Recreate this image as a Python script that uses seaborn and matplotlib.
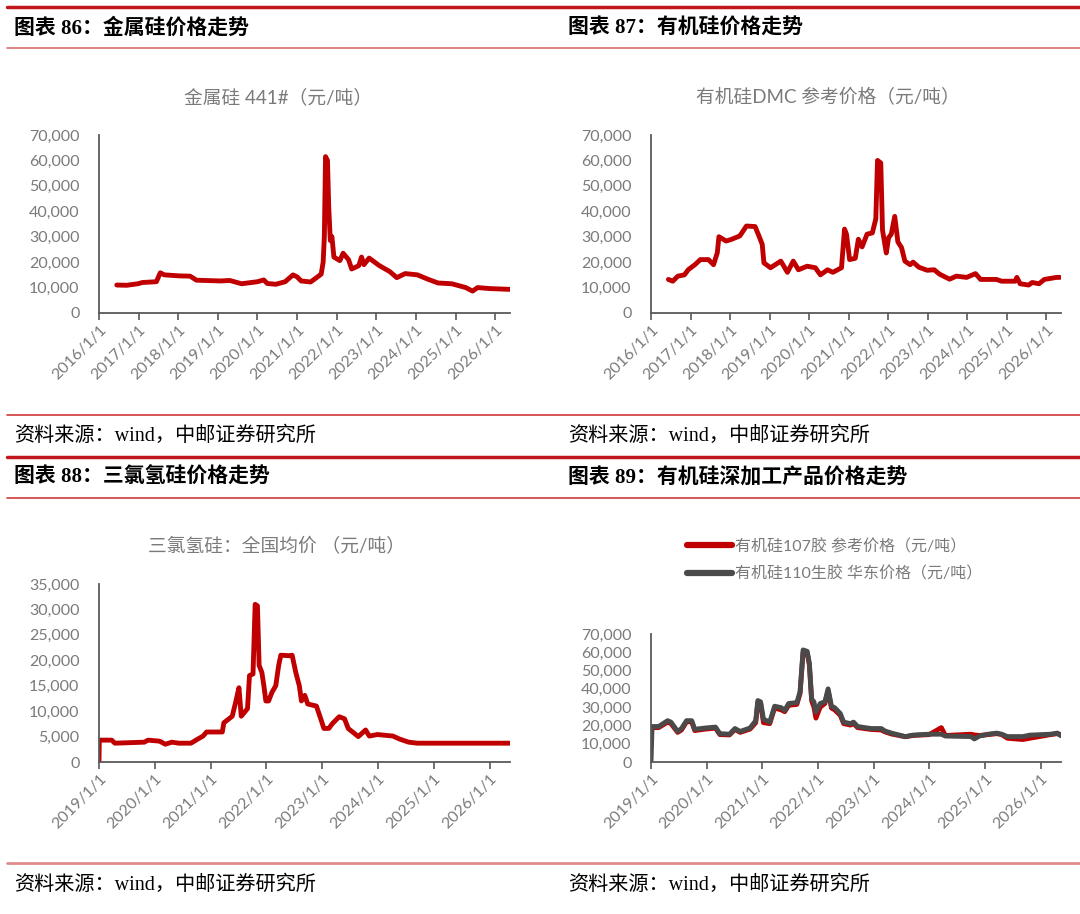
import pandas as pd
import matplotlib
matplotlib.use("Agg")
import matplotlib.pyplot as plt
import matplotlib.dates as mdates
from matplotlib.lines import Line2D
from matplotlib.ticker import FuncFormatter
import seaborn as sns

# ---- data ----
si_dates = ["2016-06-13", "2016-09-12", "2016-12-24", "2017-02-06", "2017-06-13", "2017-07-19",
            "2017-08-25", "2018-01-08", "2018-04-20", "2018-06-18", "2019-01-26", "2019-04-20",
            "2019-08-08", "2020-01-01", "2020-02-28", "2020-04-01", "2020-06-18", "2020-09-13",
            "2020-11-24", "2021-01-01", "2021-02-07", "2021-05-05", "2021-07-02", "2021-08-11",
            "2021-08-29", "2021-09-09", "2021-09-20", "2021-10-08", "2021-10-19", "2021-11-03",
            "2021-11-18", "2021-12-06", "2022-01-30", "2022-03-01", "2022-04-20", "2022-05-19",
            "2022-07-23", "2022-08-18", "2022-09-09", "2022-10-27", "2023-01-30", "2023-05-05",
            "2023-07-09", "2023-09-24", "2024-01-15", "2024-04-20", "2024-07-23", "2024-11-27",
            "2025-04-05", "2025-06-07", "2025-07-23", "2025-11-14", "2026-05-15"]
si_price = [11000, 10900, 11500, 12000, 12300, 15800,
            15000, 14600, 14500, 12900, 12600, 12800,
            11500, 12300, 13000, 11600, 11300, 12300,
            15000, 14200, 12600, 12200, 14000, 15300,
            20000, 30000, 61500, 60000, 42000, 28500,
            30000, 22000, 20600, 23500, 21000, 17300,
            18600, 22000, 19000, 21600, 18600, 16300,
            13900, 15500, 15000, 13300, 11800, 11500,
            10000, 8600, 10000, 9600, 9300]

dmc_dates = ["2016-06-10", "2016-07-20", "2016-09-05", "2016-11-05", "2016-12-10", "2017-02-10",
             "2017-04-01", "2017-06-15", "2017-08-01", "2017-09-05", "2017-09-20", "2017-11-25",
             "2018-01-10", "2018-04-01", "2018-06-01", "2018-08-20", "2018-09-25", "2018-10-25",
             "2018-11-10", "2019-01-10", "2019-04-15", "2019-06-15", "2019-08-08", "2019-09-25",
             "2019-12-15", "2020-02-28", "2020-04-15", "2020-06-20", "2020-08-08", "2020-10-27",
             "2020-11-24", "2020-12-12", "2021-01-10", "2021-03-03", "2021-04-01", "2021-05-05",
             "2021-06-20", "2021-08-08", "2021-09-09", "2021-09-25", "2021-10-25", "2021-11-10",
             "2021-12-15", "2022-01-05", "2022-01-30", "2022-03-03", "2022-04-01", "2022-05-05",
             "2022-06-05", "2022-07-23", "2022-08-20", "2022-10-12", "2022-12-28", "2023-03-03",
             "2023-04-20", "2023-07-23", "2023-09-24", "2023-12-28", "2024-03-18", "2024-05-05",
             "2024-09-28", "2024-11-15", "2025-03-20", "2025-04-05", "2025-05-05", "2025-07-23",
             "2025-08-25", "2025-10-27", "2025-12-15", "2026-04-05", "2026-05-08"]
dmc_price = [13200, 12500, 14500, 15000, 17000, 19000,
             21000, 21000, 19000, 23700, 30000, 28300,
             28900, 30300, 34200, 34000, 30300, 27000,
             19700, 17800, 20400, 16000, 20400, 17000,
             18400, 17800, 15000, 17000, 16000, 17800,
             33000, 31000, 21000, 21500, 29000, 26000,
             31000, 31500, 37000, 60000, 59000, 32600,
             23600, 29600, 31000, 38000, 28000, 25700,
             20400, 19000, 20000, 18000, 16800, 17000,
             15300, 13300, 14500, 14000, 15500, 13200,
             13200, 12500, 12500, 14000, 11500, 11000,
             12000, 11500, 13200, 14000, 14000]

tcs_dates = ["2019-01-01", "2019-01-03", "2019-03-25", "2019-04-15", "2019-10-25", "2019-11-18",
             "2020-02-01", "2020-03-10", "2020-04-22", "2020-06-05", "2020-08-25", "2020-10-08",
             "2020-11-12", "2020-12-05", "2021-03-18", "2021-03-28", "2021-05-01", "2021-05-22",
             "2021-06-13", "2021-07-05", "2021-07-20", "2021-08-30", "2021-09-12", "2021-10-05",
             "2021-10-19", "2021-11-03", "2021-11-14", "2021-12-02", "2021-12-15", "2021-12-28",
             "2022-01-15", "2022-02-06", "2022-03-03", "2022-03-22", "2022-04-05", "2022-05-30",
             "2022-06-18", "2022-07-12", "2022-08-04", "2022-08-18", "2022-09-09", "2022-09-28",
             "2022-11-24", "2022-12-20", "2023-01-12", "2023-02-13", "2023-03-10", "2023-04-22",
             "2023-05-27", "2023-06-20", "2023-07-23", "2023-08-25", "2023-10-12", "2023-11-05",
             "2023-12-28", "2024-04-08", "2024-05-22", "2024-07-20", "2024-09-13", "2026-05-12"]
tcs_price = [0, 4300, 4300, 3700, 3900, 4300,
             4100, 3500, 3900, 3700, 3700, 4500,
             5100, 5900, 5900, 7700, 8500, 9000,
             11700, 14600, 9000, 10500, 17000, 17300,
             31000, 30700, 19000, 17600, 15000, 12000,
             12000, 13700, 15000, 19000, 21000, 20900,
             21000, 17600, 15000, 12000, 13100, 11400,
             11000, 8700, 6600, 6600, 7600, 8900,
             8500, 6600, 5800, 5000, 6300, 5100,
             5400, 5100, 4500, 3900, 3700, 3700]

gum_dates = ["2019-01-01", "2019-01-08", "2019-02-20", "2019-04-20", "2019-05-12", "2019-06-25",
             "2019-07-20", "2019-08-22", "2019-09-25", "2019-10-15", "2019-12-25", "2020-02-28",
             "2020-03-28", "2020-05-30", "2020-07-05", "2020-08-08", "2020-10-12", "2020-11-18",
             "2020-12-02", "2020-12-20", "2021-01-08", "2021-02-18", "2021-03-22", "2021-05-05",
             "2021-05-27", "2021-06-22", "2021-08-15", "2021-09-05", "2021-09-25", "2021-10-22",
             "2021-11-05", "2021-11-20", "2021-12-05", "2021-12-18", "2022-01-15", "2022-02-15",
             "2022-03-08", "2022-03-30", "2022-04-20", "2022-05-27", "2022-06-18", "2022-08-01",
             "2022-08-22", "2022-09-18", "2022-12-15", "2023-02-20", "2023-03-15", "2023-04-28",
             "2023-07-28", "2023-09-15", "2024-01-01", "2024-03-20", "2024-04-15", "2024-10-01",
             "2024-10-22", "2024-11-25", "2025-01-22", "2025-03-18", "2025-04-20", "2025-05-27",
             "2025-09-05", "2025-10-22", "2026-03-08", "2026-04-20", "2026-05-12"]
gum107_price = [18800, 18800, 18800, 21800, 21000, 16200,
                17500, 22000, 22000, 17200, 18000, 18500,
                15000, 14800, 17800, 16200, 18000, 21500,
                32500, 32000, 21500, 21000, 29500, 28500,
                27500, 31000, 31500, 37500, 60000, 59500,
                53000, 33500, 30000, 24000, 30000, 32000,
                39000, 29500, 28500, 25500, 21000, 20200,
                21000, 18800, 17800, 17500, 16500, 15300,
                13800, 14500, 15000, 18800, 14500, 15200,
                14800, 14500, 15000, 15500, 15000, 13000,
                12300, 13000, 15000, 15500, 15000]
gum110_price = [0, 19400, 19400, 22600, 21800, 16700,
                18300, 22600, 22600, 17900, 18600, 19100,
                15500, 15200, 18300, 16700, 18600, 22600,
                33600, 32900, 23400, 21800, 30500, 29700,
                28100, 32000, 32500, 38400, 61300, 60500,
                54000, 34400, 32900, 27300, 32000, 32900,
                40000, 30500, 29700, 26500, 21800, 21000,
                21800, 19400, 18300, 18300, 17000, 15800,
                13900, 14700, 15200, 15200, 14200, 13900,
                12600, 14200, 15200, 15800, 15200, 13900,
                13900, 14700, 15200, 15800, 14400]

headers = ["图表 86：金属硅价格走势", "图表 87：有机硅价格走势",
           "图表 88：三氯氢硅价格走势", "图表 89：有机硅深加工产品价格走势"]
titles = ["金属硅 441#（元/吨）", "有机硅DMC 参考价格（元/吨）", "三氯氢硅：全国均价 （元/吨）"]
legend_labels = ["有机硅107胶 参考价格（元/吨）", "有机硅110生胶 华东价格（元/吨）"]
source = "资料来源：wind，中邮证券研究所"

RED = "#C00000"
GREY_LINE = "#4A4A4A"
TXT = "#7A7A7A"
W, H = 1080, 914
LW = 3.5

sns.set_theme(style="white")
plt.rcParams["font.family"] = ["Lato", "Noto Sans CJK SC", "DejaVu Sans"]
plt.rcParams["axes.unicode_minus"] = False

fig = plt.figure(figsize=(W / 100, H / 100), dpi=100)


def rect(l, t, r, b):
    return [l / W, 1 - b / H, (r - l) / W, (b - t) / H]


def fy(y):
    return 1 - y / H


def style_axis(ax, start, end, ymax, ystep):
    ax.set_xlim(pd.Timestamp(start), pd.Timestamp(end))
    ax.set_ylim(0, ymax)
    ax.set_yticks(range(0, ymax + 1, ystep))
    ax.yaxis.set_major_formatter(FuncFormatter(lambda v, p: f"{int(v):,}"))
    ax.xaxis.set_major_locator(mdates.YearLocator())
    ax.xaxis.set_major_formatter(mdates.DateFormatter("%Y/1/1"))
    for s in ["top", "right"]:
        ax.spines[s].set_visible(False)
    for s in ["left", "bottom"]:
        ax.spines[s].set_color("#595959")
        ax.spines[s].set_linewidth(1.3)
    ax.tick_params(axis="x", which="major", bottom=True, length=5, width=1.2,
                   color="#595959", labelsize=11.5, labelcolor=TXT, pad=2)
    ax.tick_params(axis="y", left=False, labelsize=11.5, labelcolor=TXT, pad=8)
    for lab in ax.get_xticklabels():
        lab.set_rotation(45)
        lab.set_ha("right")
        lab.set_rotation_mode("anchor")
    ax.set_xlabel("")
    ax.set_ylabel("")
    ax.grid(False)


# panel 86
ax1 = fig.add_axes(rect(99, 135, 510, 313))
df1 = pd.DataFrame({"date": pd.to_datetime(si_dates), "price": si_price})
sns.lineplot(data=df1, x="date", y="price", ax=ax1, color=RED, linewidth=LW)
style_axis(ax1, "2016-01-01", "2026-05-18", 70000, 10000)

# panel 87
ax2 = fig.add_axes(rect(651, 135, 1061, 313))
df2 = pd.DataFrame({"date": pd.to_datetime(dmc_dates), "price": dmc_price})
sns.lineplot(data=df2, x="date", y="price", ax=ax2, color=RED, linewidth=LW)
style_axis(ax2, "2016-01-01", "2026-05-18", 70000, 10000)

# panel 88
ax3 = fig.add_axes(rect(99, 584, 510, 762))
df3 = pd.DataFrame({"date": pd.to_datetime(tcs_dates), "price": tcs_price})
sns.lineplot(data=df3, x="date", y="price", ax=ax3, color=RED, linewidth=LW)
style_axis(ax3, "2019-01-01", "2026-05-14", 35000, 5000)

# panel 89
ax4 = fig.add_axes(rect(651, 634, 1061, 762))
df4 = pd.DataFrame({"date": pd.to_datetime(gum_dates), "p107": gum107_price, "p110": gum110_price})
sns.lineplot(data=df4.iloc[1:], x="date", y="p107", ax=ax4, color=RED, linewidth=LW,
             label=legend_labels[0])
sns.lineplot(data=df4, x="date", y="p110", ax=ax4, color=GREY_LINE, linewidth=LW,
             label=legend_labels[1])
style_axis(ax4, "2019-01-01", "2026-05-14", 70000, 10000)
leg = ax4.legend(loc="center", bbox_to_anchor=(835 / W, fy(560)), bbox_transform=fig.transFigure,
                 frameon=False, fontsize=11.5, labelcolor=TXT, handlelength=2.8,
                 handletextpad=0.2, labelspacing=0.75)
for ln in leg.get_lines():
    ln.set_linewidth(4.5)

# chart titles
fig.text(278 / W, fy(97), titles[0], ha="center", va="center", fontsize=13.5, color=TXT)
fig.text(828 / W, fy(97), titles[1], ha="center", va="center", fontsize=13.5, color=TXT)
fig.text(276 / W, fy(546), titles[2], ha="center", va="center", fontsize=13.5, color=TXT)

# report frame: headers, sources and rules
hdr_font = ["Liberation Serif", "Noto Sans CJK SC"]
for x, y, t in [(14, 28, headers[0]), (568, 28, headers[1]), (14, 478, headers[2]), (568, 478, headers[3])]:
    fig.text(x / W, fy(y), t, ha="left", va="center", fontsize=15, fontweight="bold",
             family=hdr_font, color="black")
for x, y in [(14, 436), (568, 436), (14, 885), (568, 885)]:
    fig.text(x / W, fy(y), source, ha="left", va="center", fontsize=14.5,
             family=hdr_font, color="black")

for y, lw, c in [(7, 2.5, "#C0161E"), (48, 1.2, "#D97070"), (415, 1.2, "#D03A3A"),
                 (457, 2.5, "#C0161E"), (498, 1.2, "#D03A3A"), (863, 2.0, "#E08C8C")]:
    fig.add_artist(Line2D([7 / W, 1], [fy(y), fy(y)], transform=fig.transFigure,
                          color=c, linewidth=lw))

fig.savefig("out.png", dpi=100)
